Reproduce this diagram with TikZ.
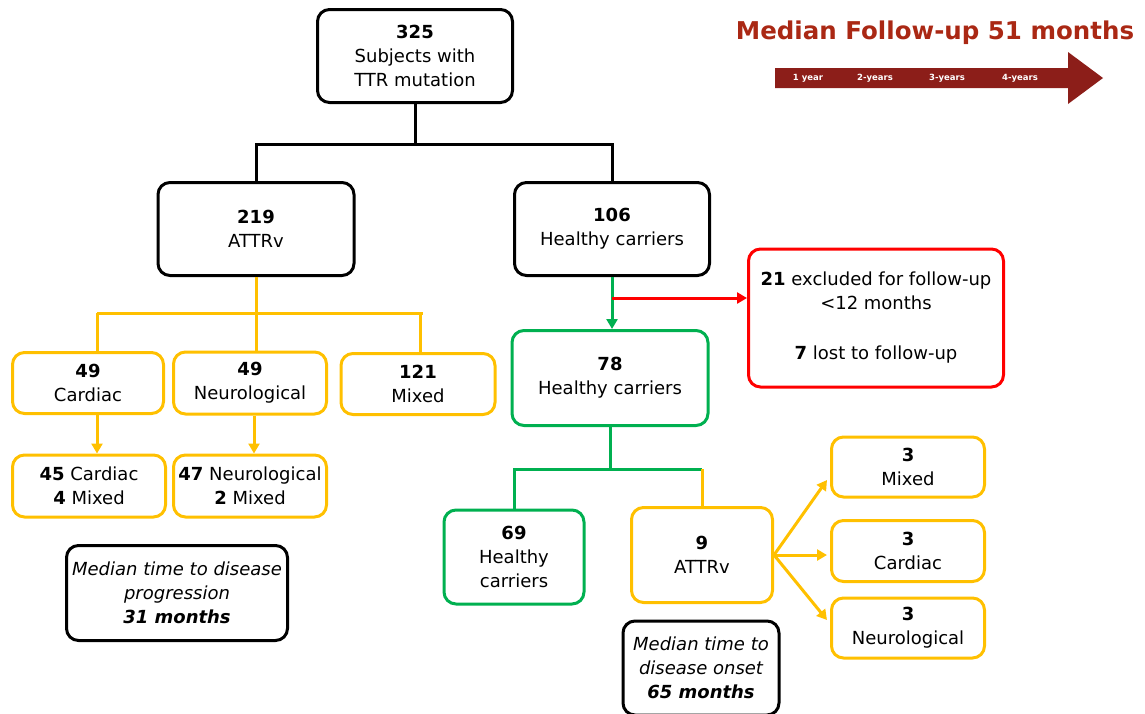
\documentclass[tikz,border=0pt]{standalone}
\usepackage{fontspec}
\setmainfont{DejaVu Sans}
\usetikzlibrary{arrows.meta}
\definecolor{attryellow}{RGB}{255,192,0}
\definecolor{carriergreen}{RGB}{0,176,80}
\definecolor{exclred}{RGB}{255,0,0}
\definecolor{titlered}{RGB}{170,40,20}
\definecolor{timered}{RGB}{140,30,25}

\begin{document}
\begin{tikzpicture}[x=1pt,y=-1pt,
  box/.style={draw,line width=3pt,rounded corners=12pt,align=center,inner sep=2pt,
    font=\fontsize{18}{24}\selectfont},
  link/.style={line width=3pt},
  tip/.style={-{Triangle[length=10pt,width=11pt]}},
  yearlbl/.style={text=white,font=\fontsize{8.5}{10}\selectfont\bfseries}]
  \useasboundingbox (0,0) rectangle (1145,713);
  % Follow-up time line, top right
  \node[text=titlered,font=\fontsize{24.5}{28}\selectfont\bfseries] (title) at (935,33) {Median Follow-up 51 months};
  \fill[timered] (775,68) -- (1068,68) -- (1068,52) -- (1103,78) -- (1068,104) -- (1068,88) -- (775,88) -- cycle;
  \node[yearlbl] (yr1) at (808,78) {1 year};
  \node[yearlbl] (yr2) at (875,78) {2-years};
  \node[yearlbl] (yr3) at (947,78) {3-years};
  \node[yearlbl] (yr4) at (1020,78) {4-years};
  % Top of the tree
  \node[box,minimum width=195pt,minimum height=93pt] (subj) at (415,56) {\textbf{325}\\Subjects with\\TTR mutation};
  \node[box,minimum width=196pt,minimum height=93pt] (attr) at (256,229) {\textbf{219}\\ATTRv};
  \node[box,minimum width=195pt,minimum height=93pt] (hc106) at (612,229) {\textbf{106}\\Healthy carriers};
  \draw[link] (subj.south) -- ++(0,40) -| (attr.north);
  \draw[link] (subj.south) -- ++(0,40) -| (hc106.north);
  % Left-hand side: ATTRv phenotypes
  \node[box,attryellow,text=black,minimum width=151pt,minimum height=61pt] (card) at (88,383) {\textbf{49}\\Cardiac};
  \node[box,attryellow,text=black,minimum width=153pt,minimum height=62pt] (neuro) at (250,383) {\textbf{49}\\Neurological};
  \node[box,attryellow,text=black,minimum width=154pt,minimum height=61pt] (mixed) at (418,384) {\textbf{121}\\Mixed};
  \node[box,attryellow,text=black,minimum width=153pt,minimum height=62pt] (card2) at (89,486) {\textbf{45} Cardiac\\\textbf{4} Mixed};
  \node[box,attryellow,text=black,minimum width=153pt,minimum height=62pt] (neuro2) at (250,486) {\textbf{47} Neurological\\\textbf{2} Mixed};
  \draw[link,attryellow] (attr.south) -- ++(0,36) coordinate (ysplit);
  \draw[link,attryellow] ([xshift=-159pt]ysplit) -- ([xshift=167pt]ysplit);
  \draw[link,attryellow] ([xshift=9pt]card.north |- ysplit) -- ([xshift=9pt]card.north);
  \draw[link,attryellow] (ysplit) -- (neuro.north -| ysplit);
  \draw[link,attryellow] ([xshift=2pt]mixed.north |- ysplit) -- ([xshift=2pt]mixed.north);
  \draw[link,attryellow,tip] ([xshift=9pt]card.south) -- ([xshift=9pt]card.north |- card2.north);
  \draw[link,attryellow,tip] ([xshift=4pt]neuro.south) -- ([xshift=4pt]neuro.north |- neuro2.north);
  \node[box,minimum width=221pt,minimum height=95pt] (prog) at (177,593)
    {\itshape Median time to disease\\\itshape progression\\\bfseries\itshape 31 months};
  % Right-hand side: healthy carriers
  \node[box,carriergreen,text=black,minimum width=196pt,minimum height=95pt] (hc78) at (610,378) {\textbf{78}\\Healthy carriers};
  \node[box,exclred,text=black,minimum width=255pt,minimum height=138pt] (excl) at (876,318)
    {\textbf{21} excluded for follow-up\\<12 months\\[26pt]\textbf{7} lost to follow-up};
  \draw[link,carriergreen,tip] (hc106.south) -- (hc106.south |- hc78.north);
  \coordinate (redstart) at ([yshift=20pt]excl.west);
  \draw[link,exclred,tip] (redstart -| hc106.south) -- (redstart);
  \node[box,carriergreen,text=black,minimum width=140pt,minimum height=94pt] (hc69) at (514,557) {\textbf{69}\\Healthy\\carriers};
  \node[box,attryellow,text=black,minimum width=141pt,minimum height=95pt] (at9) at (702,555) {\textbf{9}\\ATTRv};
  \draw[link,carriergreen] (hc78.south) -- ++(0,42) coordinate (gsplit) -| (hc69.north);
  \draw[link,carriergreen] (gsplit) -- (gsplit -| at9.north);
  \draw[link,attryellow] (gsplit -| at9.north) -- (at9.north);
  \node[box,minimum width=156pt,minimum height=94pt] (onset) at (701,668)
    {\itshape Median time to\\\itshape disease onset\\\bfseries\itshape 65 months};
  % ATTRv onset phenotypes
  \node[box,attryellow,text=black,minimum width=153pt,minimum height=60pt] (mix3) at (908,467) {\textbf{3}\\Mixed};
  \node[box,attryellow,text=black,minimum width=153pt,minimum height=61pt] (card3) at (908,551) {\textbf{3}\\Cardiac};
  \node[box,attryellow,text=black,minimum width=153pt,minimum height=60pt] (neuro3) at (908,628) {\textbf{3}\\Neurological};
  \draw[link,attryellow,tip] (at9.east) -- ([xshift=-3pt,yshift=-13pt]mix3.west);
  \draw[link,attryellow,tip] (at9.east) -- ([xshift=-3pt]card3.west |- at9.east);
  \draw[link,attryellow,tip] (at9.east) -- ([xshift=-3pt,yshift=8pt]neuro3.west);
\end{tikzpicture}
\end{document}
